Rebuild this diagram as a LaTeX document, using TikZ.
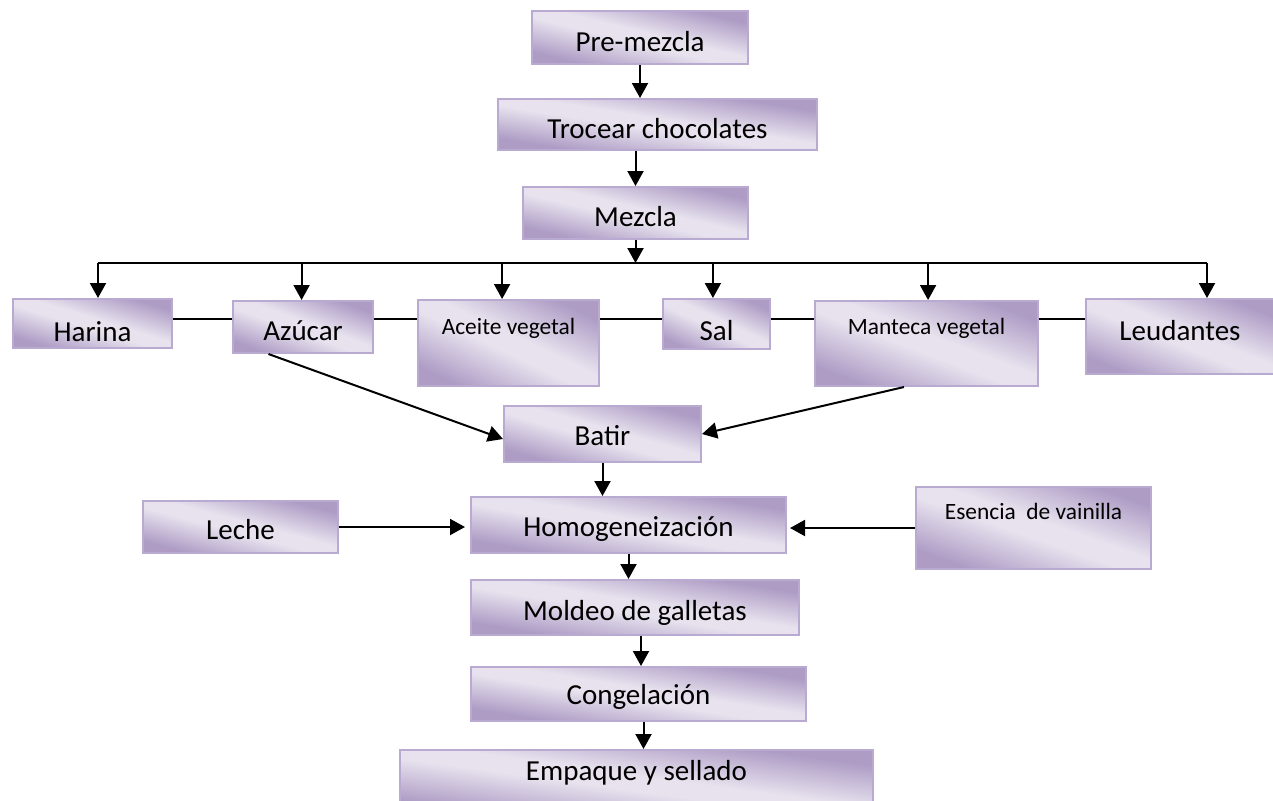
\documentclass[tikz,border=0pt]{standalone}
\usepackage{fontspec}
\setmainfont{Carlito}
\usetikzlibrary{arrows.meta,calc}
\definecolor{dk}{RGB}{174,156,197}
\definecolor{lt}{RGB}{231,226,238}
\definecolor{bd}{RGB}{184,170,208}
\pgfdeclarehorizontalshading{boxshade}{100bp}{color(0bp)=(dk); color(12bp)=(dk); color(44bp)=(lt); color(56bp)=(lt); color(88bp)=(dk); color(100bp)=(dk)}
\newcommand\fbig{\fontsize{14.5pt}{17pt}\selectfont}
\newcommand\fsml{\fontsize{11.7pt}{14pt}\selectfont}
\newcommand\mkbox[8]{%
  \pgfmathsetlengthmacro\myBW{(#4-#2)*0.5pt}%
  \pgfmathsetlengthmacro\myBH{(#6-#3)*0.5pt}%
  \pgfmathsetlengthmacro\myBD{(#5-#6)*0.5pt}%
  \node[box,font=#8,minimum width=\myBW,text height=\myBH,text depth=\myBD,anchor=north west] (#1) at (#2,#3) {#7};}
\newcommand\diagshade{%
  \pgfpointanchor{path picture bounding box}{south west}\pgfgetlastxy\mySWx\mySWy
  \pgfpointanchor{path picture bounding box}{north east}\pgfgetlastxy\myNEx\myNEy
  \pgfmathsetmacro\mySx{(\myNEx-\mySWx)/100.375*1.42}%
  \pgfmathsetmacro\mySy{(\myNEy-\mySWy)/100.375*1.42}%
  \pgfmathsetlengthmacro\myCx{(\mySWx+\myNEx)/2}%
  \pgfmathsetlengthmacro\myCy{(\mySWy+\myNEy)/2}%
  \pgftransformshift{\pgfpoint{\myCx}{\myCy}}%
  \pgftransformxscale{\mySx}\pgftransformyscale{\mySy}%
  \pgftransformrotate{45}%
  \pgflowlevelsynccm
  \pgfuseshading{boxshade}}
\tikzset{
  box/.style={path picture={\diagshade},draw=bd,line width=1pt,inner sep=0pt,align=center},
  arr/.style={-{Triangle[length=7.5pt,width=8pt]},line width=1pt},
  ln/.style={line width=1pt}
}
\begin{document}
\begin{tikzpicture}[x=0.5pt,y=-0.5pt]
\useasboundingbox (0,0) rectangle (1273,800);
\mkbox{pre}{531}{10}{747}{63}{50}{Pre-mezcla}{\fbig}
\mkbox{troc}{497}{98}{816}{149}{137}{Trocear chocolates}{\fbig}
\mkbox{mez}{522}{186}{747}{238}{225}{Mezcla}{\fbig}
\mkbox{har}{12}{298}{171}{347}{340}{Harina}{\fbig}
\mkbox{az}{232}{300}{372}{352}{339}{Azúcar}{\fbig}
\mkbox{ac}{417}{299}{598}{385}{333}{Aceite vegetal}{\fsml}
\mkbox{sal}{662}{298}{769}{348}{339}{Sal}{\fbig}
\mkbox{man}{814}{300}{1037}{385}{333}{Manteca vegetal}{\fsml}
\mkbox{leu}{1085}{298}{1273}{373}{339}{Leudantes}{\fbig}
\mkbox{bat}{503}{405}{700}{461}{444}{Batir}{\fbig}
\mkbox{lec}{142}{500}{337}{552}{538}{Leche}{\fbig}
\mkbox{hom}{470}{496}{785}{552}{535}{Homogeneización}{\fbig}
\mkbox{esen}{915}{486}{1150}{568}{518}{Esencia\ \ de vainilla}{\fsml}
\mkbox{mol}{470}{579}{798}{634}{619}{Moldeo de galletas}{\fbig}
\mkbox{cong}{470}{666}{805}{720}{703}{Congelación}{\fbig}
\mkbox{emp}{399}{749}{872}{815}{779}{Empaque y sellado}{\fbig}
% top chain
\draw[arr] (pre.south) -- (pre.south |- troc.north);
\draw[arr] (mez.north |- troc.south) -- (mez.north);
\coordinate (busL) at (98,263);
\coordinate (busR) at (1207,263);
\draw[arr] (mez.south) -- (mez.south |- busL);
\draw[ln] (busL) -- (busR);
\coordinate (azT) at ($(az.north west)!0.49!(az.north east)$);
\coordinate (acT) at ($(ac.north west)!0.465!(ac.north east)$);
\coordinate (salT) at ($(sal.north west)!0.467!(sal.north east)$);
\coordinate (manT) at ($(man.north west)!0.507!(man.north east)$);
\draw[arr] (busL) -- (busL |- har.north);
\draw[arr] (azT |- busL) -- (azT);
\draw[arr] (acT |- busL) -- (acT);
\draw[arr] (salT |- busL) -- (salT);
\draw[arr] (manT |- busL) -- (manT);
\draw[arr] (busR) -- (busR |- leu.north);
% ingredient row links
\coordinate (row) at (0,319);
\draw[ln] (har.east |- row) -- (az.west |- row);
\draw[ln] (az.east |- row) -- (ac.west |- row);
\draw[ln] (ac.east |- row) -- (sal.west |- row);
\draw[ln] (sal.east |- row) -- (man.west |- row);
\draw[ln] (man.east |- row) -- (leu.west |- row);
% to Batir
\coordinate (azB) at ($(az.south west)!0.257!(az.south east)$);
\coordinate (manB) at ($(man.south west)!0.40!(man.south east)$);
\coordinate (batL) at ($(bat.west)+(0,5)$);
\draw[arr] (azB) -- (batL);
\draw[arr] (manB) -- (bat.east);
\draw[arr] (bat.south) -- (bat.south |- hom.north);
% to Homogeneizacion
\coordinate (homL) at ($(lec.east -| hom.west)+(-5,0)$);
\coordinate (homR) at ($(esen.west -| hom.east)+(3,0)$);
\draw[arr] (lec.east) -- (homL);
\draw[arr] (esen.west) -- (homR);
\draw[arr] (hom.south) -- (hom.south |- mol.north);
\coordinate (molB) at ($(mol.south)+(6,0)$);
\coordinate (congB) at ($(cong.south)+(5,0)$);
\draw[arr] (molB) -- (molB |- cong.north);
\draw[arr] (congB) -- (congB |- emp.north);
\end{tikzpicture}
\end{document}
